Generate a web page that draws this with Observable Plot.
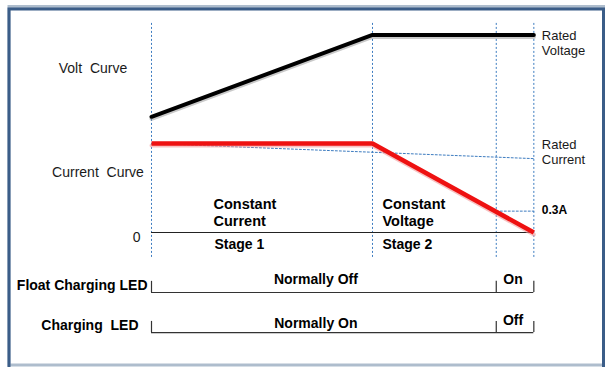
<!DOCTYPE html>
<html><head><meta charset="utf-8">
<script src="https://cdn.jsdelivr.net/npm/d3@7"></script>
<script src="https://cdn.jsdelivr.net/npm/@observablehq/plot@0.6"></script>
<style>body{margin:0;background:#fff}</style>
</head><body><div id="chart"></div>
<script>
// ---- data (schematic units: time in hours, level relative to rated current) ----
const stageTimes = [0, 10, 15.6, 17.3];          // start, end of stage 1, 0.3A point, end
const voltTimes = [0, 10, 17.3];
const voltLevels = [1.30, 2.22, 2.22];
const currentTimes = [0, 10, 17.3];
const currentLevels = [1.0, 1.0, 0.0];
const ratedCurrentTimes = [0, 17.3];
const ratedCurrentLevels = [1.0, 0.83];
const cutoffTimes = [15.6, 17.3];
const cutoffLevels = [0.24, 0.24];
const curveNames = ["Volt  Curve", "Current  Curve"];
const rightLabels = ["Rated\nVoltage", "Rated\nCurrent", "0.3A"];
const stageNames = ["Constant\nCurrent", "Constant\nVoltage"];
const stageLabels = ["Stage 1", "Stage 2"];
const ledRows = ["Float Charging LED", "Charging  LED"];
const ledStatesMain = ["Normally Off", "Normally On"];
const ledStatesEnd = ["On", "Off"];
const zeroLabel = ["0"];

// ---- build tables ----
const volt = voltTimes.map((t, i) => ({t, v: voltLevels[i]}));
const current = currentTimes.map((t, i) => ({t, v: currentLevels[i]}));
const ratedCurrent = ratedCurrentTimes.map((t, i) => ({t, v: ratedCurrentLevels[i]}));
const cutoff = cutoffTimes.map((t, i) => ({t, v: cutoffLevels[i]}));
const [t0, t1, t2, t3] = stageTimes;

// ---- layout ----
const vTop = 2.36, vBottom = -0.28;
const rowY = [-0.674, -1.124];
const tickLen = 0.125;
const blue = "#3d7cc0";
const font = "'Liberation Sans', Arial, sans-serif";
const ticks = rowY.flatMap(r => [t0, t2, t3].map(t => ({t, r})));
const T = (arr, opts) => Plot.text(arr, {text: d => d, lineAnchor: "bottom", ...opts});

const chart = Plot.plot({
  width: 611, height: 367, margin: 0,
  x: {type: "linear", domain: [0, 10], range: [151, 372], axis: null},
  y: {type: "linear", domain: [0, 1], range: [232, 143], axis: null},
  style: {fontFamily: font, background: "white", overflow: "visible"},
  marks: [
    Plot.frame({stroke: "#aebdcd", strokeWidth: 3, insetLeft: 8.5, insetRight: 8, insetTop: 6, insetBottom: 2.5}),
    Plot.frame({stroke: "#3b5d88", strokeWidth: 3, insetLeft: 8.5, insetRight: 8, insetTop: 8.5, insetBottom: -4}),
    Plot.ruleX(stageTimes, {x: d => d, y1: vBottom, y2: vTop, stroke: blue, strokeDasharray: "2,2", strokeWidth: 1}),
    Plot.line(ratedCurrent, {x: "t", y: "v", stroke: blue, strokeDasharray: "2,2", strokeWidth: 1}),
    Plot.line(cutoff, {x: "t", y: "v", stroke: blue, strokeDasharray: "2,2", strokeWidth: 1}),
    Plot.ruleY([0], {x1: t0, x2: t3, stroke: "#222", strokeWidth: 1.2}),
    Plot.line(volt, {x: "t", y: "v", stroke: "#888", strokeWidth: 4, dy: 2, strokeOpacity: 0.45}),
    Plot.line(volt, {x: "t", y: "v", stroke: "#000", strokeWidth: 4}),
    Plot.line(current, {x: "t", y: "v", stroke: "#f19a9a", strokeWidth: 4, dy: 2, strokeOpacity: 0.6}),
    Plot.line(current, {x: "t", y: "v", stroke: "#ee1111", strokeWidth: 4.5, strokeLinecap: "butt"}),
    // LED rows
    Plot.ruleY(rowY, {x1: t0, x2: t3, stroke: "#333", strokeWidth: 1.2}),
    Plot.ruleX(ticks, {x: "t", y1: "r", y2: d => d.r + tickLen, stroke: "#333", strokeWidth: 1.2}),
    // left labels
    T([curveNames[0]], {x: t0, y: 1.787, dx: -58.5, textAnchor: "middle", fontSize: 14, fill: "#1a1a1a"}),
    T([curveNames[1]], {x: t0, y: 0.629, dx: -53.5, textAnchor: "middle", fontSize: 14, fill: "#1a1a1a"}),
    T(zeroLabel, {x: t0, y: 0, dx: -11, dy: 9, textAnchor: "end", fontSize: 14, fill: "#1a1a1a"}),
    // right labels
    T([rightLabels[0]], {x: t3, y: voltLevels[2], dx: 8, dy: 20, textAnchor: "start", fontSize: 13, lineHeight: 1.15, fill: "#1a1a1a"}),
    T([rightLabels[1]], {x: t3, y: ratedCurrentLevels[1], dx: 8, dy: 5, textAnchor: "start", fontSize: 13, lineHeight: 1.15, fill: "#1a1a1a"}),
    T([rightLabels[2]], {x: t3, y: cutoffLevels[1], dx: 8, dy: 2.5, textAnchor: "start", fontSize: 12, fontWeight: "bold", fill: "#000"}),
    // stage labels
    T([stageNames[0]], {x: t0, y: 0, dx: 62, dy: -6.5, textAnchor: "start", fontSize: 14.5, lineHeight: 1.15, fontWeight: "bold", fill: "#000"}),
    T([stageNames[1]], {x: t1, y: 0, dx: 10, dy: -6.5, textAnchor: "start", fontSize: 14.5, lineHeight: 1.15, fontWeight: "bold", fill: "#000"}),
    T([stageLabels[0]], {x: t0, y: 0, dx: 63, dy: 16.5, textAnchor: "start", fontSize: 14, fontWeight: "bold", fill: "#000"}),
    T([stageLabels[1]], {x: t1, y: 0, dx: 10, dy: 16.5, textAnchor: "start", fontSize: 14, fontWeight: "bold", fill: "#000"}),
    // LED labels
    T([ledRows[0]], {x: t0, y: rowY[0], dx: -4, dy: -2, textAnchor: "end", fontSize: 14, fontWeight: "bold", fill: "#000"}),
    T([ledRows[1]], {x: t0, y: rowY[1], dx: -13, dy: -3, textAnchor: "end", fontSize: 14, fontWeight: "bold", fill: "#000"}),
    T([ledStatesMain[0]], {x: (t0 + t2) / 2, y: rowY[0], dx: -8, dy: -8, textAnchor: "middle", fontSize: 14, fontWeight: "bold", fill: "#000"}),
    T([ledStatesMain[1]], {x: (t0 + t2) / 2, y: rowY[1], dx: -8, dy: -5, textAnchor: "middle", fontSize: 14, fontWeight: "bold", fill: "#000"}),
    T([ledStatesEnd[0]], {x: (t2 + t3) / 2, y: rowY[0], dx: -2, dy: -8, textAnchor: "middle", fontSize: 14, fontWeight: "bold", fill: "#000"}),
    T([ledStatesEnd[1]], {x: (t2 + t3) / 2, y: rowY[1], dx: -2, dy: -8, textAnchor: "middle", fontSize: 14, fontWeight: "bold", fill: "#000"})
  ]
});
document.getElementById("chart").append(chart);
</script>
</body></html>
